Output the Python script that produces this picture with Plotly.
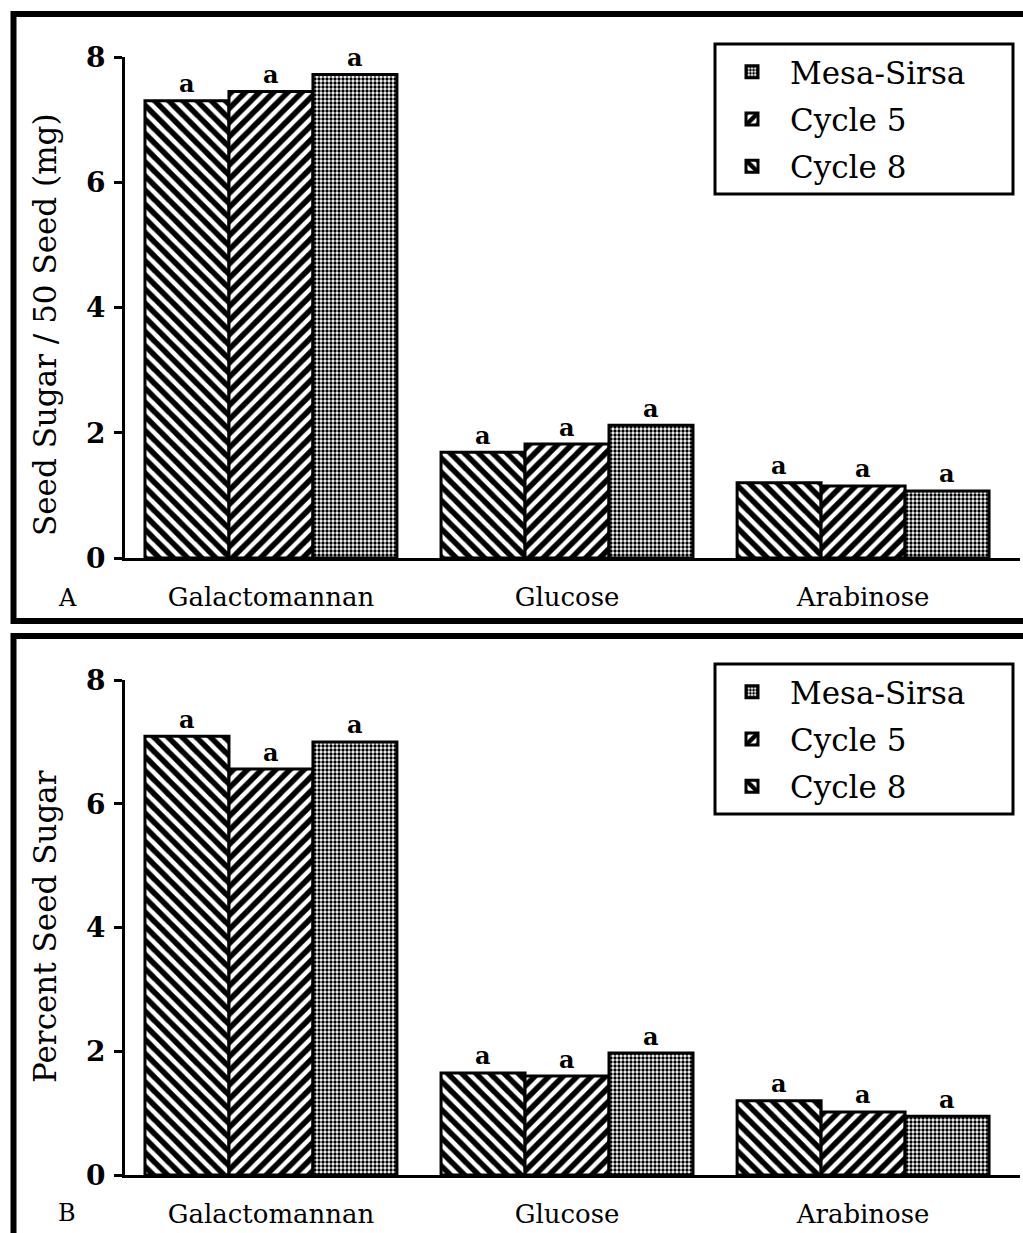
import plotly.graph_objects as go

W, H = 1023, 1233

# Sugars measured and the three populations compared
categories = ["Galactomannan", "Glucose", "Arabinose"]
populations = ["Cycle 8", "Cycle 5", "Mesa-Sirsa"]
legend_rank = {"Mesa-Sirsa": 1, "Cycle 5": 2, "Cycle 8": 3}

# Panel A: seed sugar per 50 seeds (mg)
sugar_mg_cycle8 = [7.30, 1.69, 1.20]
sugar_mg_cycle5 = [7.45, 1.82, 1.15]
sugar_mg_mesa = [7.72, 2.12, 1.07]

# Panel B: percent seed sugar
sugar_pct_cycle8 = [7.09, 1.65, 1.20]
sugar_pct_cycle5 = [6.56, 1.60, 1.02]
sugar_pct_mesa = [7.00, 1.97, 0.95]

# Mean separation letters (per population, per sugar)
letters_a = [["a", "a", "a"], ["a", "a", "a"], ["a", "a", "a"]]
letters_b = [["a", "a", "a"], ["a", "a", "a"], ["a", "a", "a"]]

y_ticks = [0, 2, 4, 6, 8]

SERIF = "DejaVu Serif"
BARGAP = 0.149

patterns = {
    "Cycle 8": dict(shape="\\", size=10, solidity=0.55, fgcolor="black",
                    bgcolor="white", fgopacity=1),
    "Cycle 5": dict(shape="/", size=10, solidity=0.55, fgcolor="black",
                    bgcolor="white", fgopacity=1),
    "Mesa-Sirsa": dict(shape=".", size=4, solidity=0.55, fgcolor="black",
                       bgcolor="white", fgopacity=1),
}


def px(x):
    return x / W


def py(y):
    return 1 - y / H


fig = go.Figure()

panels = [
    ("x", "y", "legend", [sugar_mg_cycle8, sugar_mg_cycle5, sugar_mg_mesa], letters_a),
    ("x2", "y2", "legend2", [sugar_pct_cycle8, sugar_pct_cycle5, sugar_pct_mesa], letters_b),
]

bar_w = (1 - BARGAP) / len(populations)

for xa, ya, leg, series, letters in panels:
    for j, (name, vals, lab) in enumerate(zip(populations, series, letters)):
        xs = list(range(len(categories)))
        fig.add_trace(go.Bar(
            x=xs, y=vals, name=name,
            xaxis=xa, yaxis=ya, legend=leg, legendrank=legend_rank[name],
            legendgroup=leg + name,
            marker=dict(color="white", line=dict(color="black", width=3),
                        pattern=patterns[name]),
        ))
        # significance letters above each bar
        offset = (j - (len(populations) - 1) / 2) * bar_w
        for xi, v, t in zip(xs, vals, lab):
            fig.add_annotation(
                x=xi + offset, y=v, xref=xa, yref=ya, text=t, showarrow=False,
                yshift=17, xanchor="center", yanchor="middle",
                font=dict(family=SERIF, size=24, color="black", weight="bold"),
            )

x_range = [-0.493, 2.53]
xdom = [px(125), px(1020)]

common_x = dict(
    range=x_range, tickmode="array", tickvals=list(range(len(categories))),
    ticktext=categories, showline=True, linecolor="black", linewidth=3,
    ticks="", ticklabelstandoff=14, showgrid=False, zeroline=False,
    automargin=False,
    tickfont=dict(family=SERIF, size=26, color="black"),
)
common_y = dict(
    range=[0, 8], tickvals=y_ticks, showline=True, linecolor="black", linewidth=3,
    ticks="outside", ticklen=8, tickwidth=3, tickcolor="black", showgrid=False,
    zeroline=False, ticklabelstandoff=3, automargin=False,
    tickfont=dict(family=SERIF, size=28, color="black", weight="bold"),
)

legend_style = dict(
    x=px(714), xanchor="left", yanchor="top",
    traceorder="grouped", tracegroupgap=4, itemwidth=66,
    borderwidth=0, bgcolor="rgba(0,0,0,0)",
    font=dict(family=SERIF, size=31, color="black"),
)

fig.update_layout(
    width=W, height=H,
    margin=dict(l=0, r=0, t=0, b=0, pad=0, autoexpand=False),
    paper_bgcolor="white", plot_bgcolor="white",
    barmode="group", bargap=BARGAP, bargroupgap=0,
    showlegend=True,
    xaxis=dict(domain=xdom, anchor="y", **common_x),
    yaxis=dict(domain=[py(558), py(57)], anchor="x", **common_y),
    xaxis2=dict(domain=xdom, anchor="y2", **common_x),
    yaxis2=dict(domain=[py(1175), py(680)], anchor="x2", **common_y),
    legend=dict(y=py(45), **legend_style),
    legend2=dict(y=py(665), **legend_style),
)

# Legend boxes
box = dict(type="rect", xref="paper", yref="paper", layer="above",
           line=dict(color="black", width=3), fillcolor="rgba(0,0,0,0)")
fig.add_shape(**box, x0=px(715), x1=px(1013), y0=py(194), y1=py(44))
fig.add_shape(**box, x0=px(715), x1=px(1013), y0=py(814), y1=py(664))

# Panel frames
frame = dict(type="line", xref="paper", yref="paper", line=dict(color="black", width=6))
fig.add_shape(**frame, x0=px(13.5), x1=px(13.5), y0=py(11), y1=py(624))
fig.add_shape(**frame, x0=px(11), x1=1, y0=py(14), y1=py(14))
fig.add_shape(**frame, x0=px(11), x1=1, y0=py(621), y1=py(621))
fig.add_shape(**frame, x0=px(11), x1=1, y0=py(636), y1=py(636))
fig.add_shape(**frame, x0=px(13.5), x1=px(13.5), y0=py(633), y1=0)

# Panel letters and y-axis titles
label_style = dict(xref="paper", yref="paper", showarrow=False,
                   xanchor="center", yanchor="middle")
fig.add_annotation(text="A", x=px(67), y=py(598), **label_style,
                   font=dict(family=SERIF, size=24, color="black"))
fig.add_annotation(text="B", x=px(67), y=py(1213), **label_style,
                   font=dict(family=SERIF, size=24, color="black"))
fig.add_annotation(text="Seed Sugar / 50 Seed (mg)", x=px(45), y=py(325),
                   textangle=-90, **label_style,
                   font=dict(family=SERIF, size=31, color="black"))
fig.add_annotation(text="Percent Seed Sugar", x=px(45), y=py(927),
                   textangle=-90, **label_style,
                   font=dict(family=SERIF, size=31, color="black"))

fig.write_html("out.html")
